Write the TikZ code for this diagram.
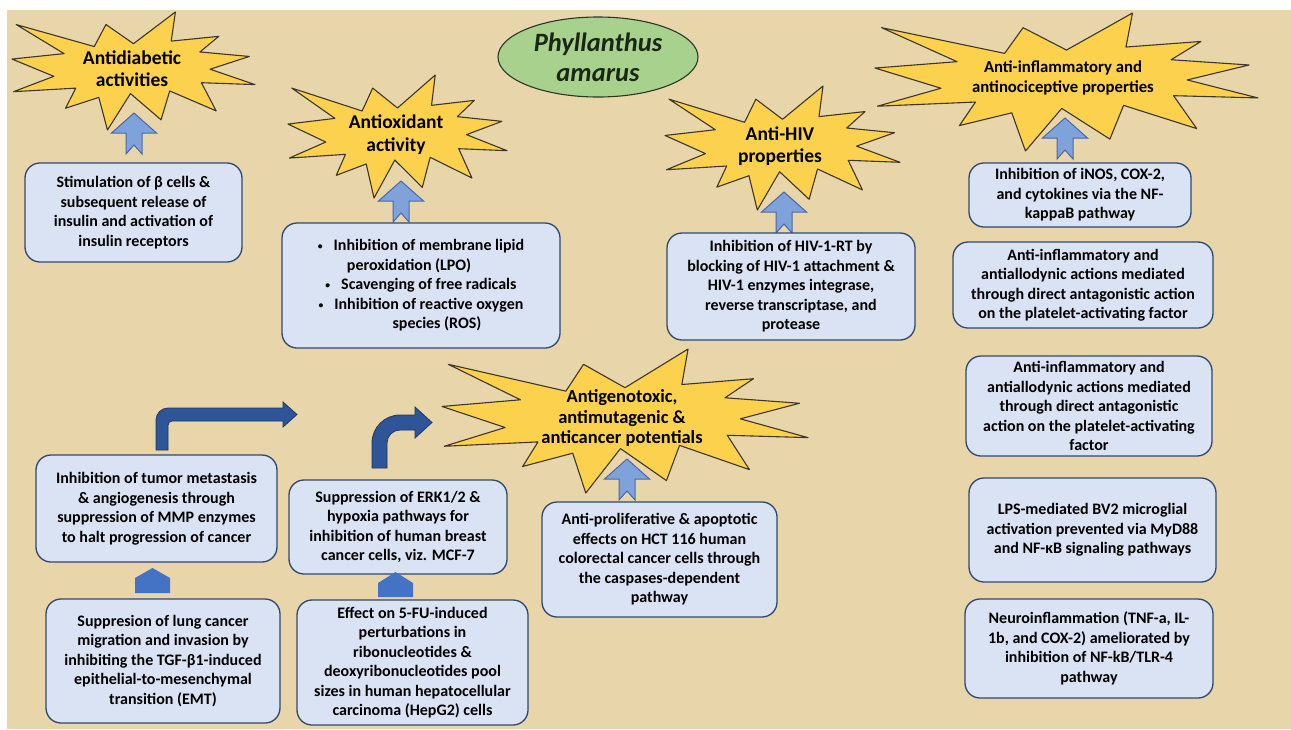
\documentclass[tikz,border=0pt]{standalone}
\usepackage{fontspec}
\usepackage{graphicx}
\setmainfont{Carlito}
\usetikzlibrary{shapes.geometric}
\definecolor{bg}{RGB}{232,213,170}
\definecolor{starfill}{RGB}{251,209,78}
\definecolor{starline}{RGB}{60,55,45}
\definecolor{boxfill}{RGB}{218,227,243}
\definecolor{boxline}{RGB}{47,72,112}
\definecolor{uparrfill}{RGB}{128,162,218}
\definecolor{uparrline}{RGB}{70,105,170}
\definecolor{darkarr}{RGB}{46,85,151}
\definecolor{darkarrline}{RGB}{31,56,100}
\definecolor{pentfill}{RGB}{68,114,196}
\definecolor{ellfill}{RGB}{169,209,142}
\definecolor{ellline}{RGB}{40,55,35}
\definecolor{elltext}{RGB}{25,40,20}
\tikzset{
 infobox/.style={draw=boxline, fill=boxfill, line width=1.3pt, rounded corners=15pt, align=center, inner sep=0pt, font=\bfseries\fontsize{16}{19.5}\selectfont, text=black},
 burstfill/.style={fill=starfill, draw=starline, line width=1.1pt, line join=round},
 bursttext/.style={align=center, text=black, inner sep=0pt},
 uparr/.style={fill=uparrfill, draw=uparrline, line width=1pt, line join=miter},
 bentarr/.style={fill=darkarr, draw=darkarrline, line width=0.8pt},
 pentarr/.style={fill=pentfill, draw=none},
}
\newcommand{\burstshape}[4]{%
 \begin{scope}[shift={(#1,#2)},xscale=#3,yscale=#4]
 \path[burstfill] (108,58) -- (145.22,0) -- (141.55,53.25) -- (183.80,44.57) -- (167.02,73.15) -- (210.97,81.37) -- (176.07,104.75) -- (216,132.90) -- (168.37,129.42) -- (181.45,180.95) -- (140.20,144.57) -- (132.47,197.37) -- (105.32,149.35) -- (84.85,216) -- (77.15,156.27) -- (47.62,176.17) -- (56.67,139.37) -- (1.35,145.87) -- (37.22,117.75) -- (0,86.15) -- (46.27,76.17) -- (3.70,22.95) -- (73.12,63.20) -- (83.52,22.95) -- cycle;
 \end{scope}}
\newcommand{\blockup}[2]{\path[uparr] (#1,#2) -- ++(22.5,20) -- ++(-14.5,0) -- ++(0,21) -- ++(-8,-9) -- ++(-8,9) -- ++(0,-21) -- ++(-14.5,0) -- cycle;}
\newcommand{\smbul}{\raisebox{1pt}{\scalebox{0.6}{\textbullet}}\hspace{11pt}}
\begin{document}
\begin{tikzpicture}[x=1pt,y=-1pt]
\useasboundingbox (0,0) rectangle (1291,729);
\fill[white] (0,0) rectangle (1291,729);
\fill[bg] (7,10) rectangle (1291,729);

% starbursts
\burstshape{12}{12}{1.125}{0.5463}
\burstshape{288}{75}{1.0139}{0.5694}
\burstshape{665}{86}{1.0880}{0.5741}
\burstshape{875}{13}{1.7731}{0.6389}
\burstshape{442}{349}{1.6944}{0.6667}
\node[bursttext, font=\bfseries\fontsize{19.5}{22}\selectfont] (s1) at (132,69) {Antidiabetic\\activities};
\node[bursttext, font=\bfseries\fontsize{19.5}{23}\selectfont] (s2) at (396,134.5) {Antioxidant\\activity};
\node[bursttext, font=\bfseries\fontsize{19.5}{22}\selectfont] (s3) at (780,146) {Anti-HIV\\properties};
\node[bursttext, font=\bfseries\fontsize{16.7}{20}\selectfont] (s4) at (1063,78) {Anti-inflammatory and\\antinociceptive properties};
\node[bursttext, font=\bfseries\fontsize{18.5}{20.5}\selectfont] (s5) at (622,418) {Antigenotoxic,\\antimutagenic \&\\anticancer potentials};

% title ellipse
\node[ellipse, fill=ellfill, draw=ellline, line width=1.1pt, minimum width=200pt, minimum height=80pt, inner sep=0pt, align=center, text=elltext, font=\bfseries\itshape\fontsize{26.5}{30}\selectfont] (phyl) at (598,57) {Phyllanthus\\amarus};

% light up arrows
\blockup{134}{113}
\blockup{401}{181}
\blockup{784}{192}
\blockup{1065}{118}
\blockup{627}{459}

% boxes
\node[infobox, minimum width=217pt, minimum height=99pt] (b1) at (133.5,212.5) {Stimulation of β cells \&\\subsequent release of\\insulin and activation of\\insulin receptors};
\node[infobox, minimum width=278pt, minimum height=125pt] (b2) at (421,285.5) {\smbul Inhibition of membrane lipid\\peroxidation (LPO)\kern24pt\\\smbul Scavenging of free radicals\\\smbul Inhibition of reactive oxygen\\\kern32pt species (ROS)};
\node[infobox, minimum width=248pt, minimum height=107pt] (b3) at (791,286.5) {Inhibition of HIV-1-RT by\\blocking of HIV-1 attachment \&\\HIV-1 enzymes integrase,\\reverse transcriptase, and\\protease};
\node[infobox, minimum width=222pt, minimum height=64pt] (b4) at (1080,195) {Inhibition of iNOS, COX-2,\\and cytokines via the NF-\\kappaB pathway};
\node[infobox, minimum width=260pt, minimum height=86pt] (b5) at (1083,285) {Anti-inflammatory and\\antiallodynic actions mediated\\through direct antagonistic action\\on the platelet-activating factor};
\node[infobox, minimum width=246pt, minimum height=100pt] (b6) at (1089,406) {Anti-inflammatory and\\antiallodynic actions mediated\\through direct antagonistic\\action on the platelet-activating\\factor};
\node[infobox, minimum width=247pt, minimum height=104pt] (b7) at (1092.5,530) {LPS-mediated BV2 microglial\\activation prevented via MyD88\\and NF-κB signaling pathways};
\node[infobox, minimum width=248pt, minimum height=99pt] (b8) at (1089,648.5) {Neuroinflammation (TNF-a, IL-\\1b, and COX-2) ameliorated by\\inhibition of NF-kB/TLR-4\\pathway};
\node[infobox, minimum width=235pt, minimum height=115pt] (b9) at (659.5,559.5) {Anti-proliferative \& apoptotic\\effects on HCT 116 human\\colorectal cancer cells through\\the caspases-dependent\\pathway};
\node[infobox, minimum width=241pt, minimum height=107pt] (b10) at (156.5,508.5) {Inhibition of tumor metastasis\\\& angiogenesis through\\suppression of MMP enzymes\\to halt progression of cancer};
\node[infobox, minimum width=218pt, minimum height=94pt] (b11) at (398,527) {Suppression of ERK1/2 \&\\hypoxia pathways for\\inhibition of human breast\\cancer cells, viz. MCF-7};
\node[infobox, minimum width=234pt, minimum height=124pt] (b12) at (163,661) {Suppresion of lung cancer\\migration and invasion by\\inhibiting the TGF-β1-induced\\epithelial-to-mesenchymal\\transition (EMT)};
\node[infobox, minimum width=231pt, minimum height=125pt] (b13) at (412.5,662.5) {Effect on 5-FU-induced\\perturbations in\\ribonucleotides \&\\deoxyribonucleotides pool\\sizes in human hepatocellular\\carcinoma (HepG2) cells};

% dark bent arrows
\path[bentarr] (156,450) -- (156,420) .. controls (156,413.4) and (161.4,408) .. (168,408) -- (283,408) -- (283,402) -- (297,414.5) -- (283,427) -- (283,421) -- (172,421) .. controls (169.8,421) and (168,422.8) .. (168,425) -- (168,450) -- cycle;
\path[bentarr] (372,468) -- (372,443) .. controls (372,427.5) and (384.5,415) .. (400,415) -- (415,415) -- (415,407) -- (432,422.5) -- (415,438) -- (415,430) -- (400,430) .. controls (392.8,430) and (387,435.8) .. (387,443) -- (387,468) -- cycle;

% small pentagon arrows
\path[pentarr] (135,593) -- (135,578) -- (152.5,568) -- (170,578) -- (170,593) -- cycle;
\path[pentarr] (378,597) -- (378,583) -- (395.5,572) -- (413,583) -- (413,597) -- cycle;
\end{tikzpicture}
\end{document}
